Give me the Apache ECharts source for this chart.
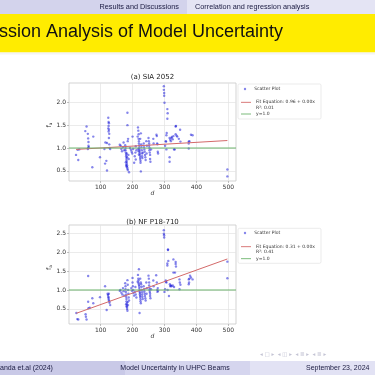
<!DOCTYPE html>
<html><head><meta charset="utf-8">
<script src="https://cdn.jsdelivr.net/npm/echarts@6/dist/echarts.min.js"></script>
<style>html,body{margin:0;padding:0;background:#fff}#c{width:375px;height:375px}</style>
</head><body><div id="c"></div><script>
// ---- data ----
const xTicks = [100, 200, 300, 400, 500];
const yTicksA = [0.5, 1.0, 1.5, 2.0];
const yTicksB = [0.5, 1.0, 1.5, 2.0, 2.5];
const titleA = '(a) SIA 2052';
const titleB = '(b) NF P18-710';
const fitNameA = 'Fit Equation: 0.96 + 0.00x';
const fitNameB = 'Fit Equation: 0.31 + 0.00x';
const r2A = 'R²: 0.01';
const r2B = 'R²: 0.41';
const fitA = [0.96, 0.00041];   // intercept, slope
const fitB = [0.31, 0.00304];
const refLevel = 1.0;

const pointsA = [
 [23,0.85],[28,0.96],[30,0.74],[33,0.97],
 [52,1.37],[56,1.47],[60,1.31],[61,1.21],[62,1.13],[62,1.05],[61,1.0],[60,0.98],[63,1.02],
 [74,0.58],[77,1.25],[98,0.80],
 [112,0.98],[114,0.66],[120,0.51],[115,1.12],[120,1.11],[118,0.72],
 [124,1.66],[125,1.57],[126,1.54],[125,1.48],[124,1.43],[126,1.40],[125,1.36],[127,1.31],[126,1.22],[128,1.0],[127,1.08],[130,0.98],
 [160,1.07],[163,1.05],[165,0.98],[167,0.93],[170,1.02],[172,1.12],[174,0.95],
 [177,1.06],[178,1.0],[178,0.95],[179,0.9],[180,0.86],[180,0.82],[181,0.78],[181,0.74],[182,0.70],[182,0.66],[183,0.62],[183,0.58],[184,0.55],
 [179,0.69],[180,0.63],[181,0.6],[182,0.88],[183,0.8],[184,1.77],[184,1.5],[185,1.15],[186,1.2],[187,0.85],[188,0.76],[185,0.52],[189,0.47],
 [192,1.0],[195,0.96],[197,0.92],[199,0.88],[200,1.25],[202,0.98],[205,0.68],[207,0.82],[209,0.9],[210,0.75],[212,0.95],[210,1.04],
 [216,1.25],[217,1.45],[218,1.38],[219,1.3],[219,1.2],[220,1.15],[220,1.1],[221,1.05],[221,1.0],[222,0.96],[222,0.92],[223,0.88],[223,0.84],
 [224,0.8],[224,0.76],[225,0.72],[225,0.68],[226,0.49],[227,1.08],[228,1.02],[229,0.95],[230,0.88],[230,0.82],[231,0.78],[232,0.9],
 [218,0.98],[219,0.93],[220,0.86],[224,1.2],[226,1.32],
 [235,1.1],[236,1.02],[237,0.97],[238,0.92],[239,0.85],[240,0.8],[241,0.74],[243,1.15],[244,0.88],[245,1.05],
 [250,1.22],[251,1.15],[252,1.1],[252,1.05],[253,1.0],[253,0.95],[254,0.9],[255,0.85],[255,0.76],[256,0.7],[258,0.97],
 [265,1.2],[266,1.1],[275,1.29],[276,1.26],[277,1.1],[278,1.08],[279,0.92],[280,0.88],
 [298,2.35],[298,2.27],[299,2.20],[299,2.14],[300,1.99],[309,1.85],[310,1.76],[309,1.64],[307,1.33],[306,1.28],[305,1.14],[304,1.15],[306,0.97],[302,1.05],
 [316,1.22],[318,1.18],[316,0.80],[316,0.70],[323,1.24],[326,1.19],[320,1.15],[322,1.22],[330,0.97],[332,0.97],[328,1.26],
 [335,1.47],[336,1.48],[335,1.3],[338,1.27],[340,1.25],[349,1.4],[350,1.14],[345,1.2],
 [376,1.14],[376,1.10],[376,0.99],[378,1.15],[383,1.29],[388,1.28],
 [497,0.53],[497,0.38]
];

const pointsB = [
 [24,0.39],[27,0.23],[30,0.22],[53,0.36],[54,0.29],[56,0.22],[61,1.37],[61,0.69],[62,0.52],[66,0.53],[74,0.78],[77,0.65],[98,0.81],[114,1.1],[119,0.47],
 [122,0.9],[123,0.87],[124,0.82],[125,0.8],[125,0.76],[126,0.72],[127,0.7],[128,0.66],[126,0.9],[130,0.6],
 [160,0.98],[162,1.0],[165,0.93],[168,0.88],[170,1.05],[172,0.97],[174,0.85],
 [177,1.18],[178,1.1],[178,1.02],[179,0.95],[180,0.88],[180,0.82],[181,0.76],[181,0.7],[182,0.65],[182,0.6],[183,0.55],[183,0.5],[184,0.45],
 [184,1.26],[185,1.14],[186,1.0],[187,0.9],[188,0.8],[189,0.72],[180,0.62],[181,0.56],[185,0.68],[186,0.6],
 [196,1.05],[198,0.98],[200,1.32],[200,1.2],[201,1.1],[202,1.0],[203,0.92],[205,0.85],[207,0.95],[209,1.08],[210,0.88],[212,0.8],
 [216,1.22],[217,1.4],[218,1.3],[219,1.25],[219,1.18],[220,1.55],[220,1.14],[221,1.1],[221,1.05],[222,1.0],[222,0.96],[223,0.92],[223,0.88],
 [224,0.84],[224,0.8],[225,0.75],[225,0.7],[226,0.65],[222,0.39],[227,1.15],[228,1.08],[229,1.0],[230,0.94],[230,0.88],[231,0.82],[232,0.76],[226,1.2],[224,1.3],
 [235,1.1],[236,1.02],[237,0.96],[238,0.9],[239,0.84],[240,0.78],[241,0.72],[243,1.2],[244,0.9],[245,1.05],
 [250,1.38],[251,1.3],[252,1.2],[252,1.12],[253,1.05],[253,1.0],[254,0.95],[255,0.9],[255,0.84],[256,0.78],[258,1.02],
 [265,1.25],[266,1.1],[274,1.39],[276,1.2],[277,1.0],[278,0.95],[279,1.05],[280,0.98],
 [298,2.58],[298,2.49],[299,2.39],[299,2.45],[311,2.07],[311,2.06],[309,1.70],[309,1.65],[312,1.77],[305,1.22],[306,1.2],[304,1.25],[302,1.02],[300,0.95],[314,0.84],[310,1.0],
 [317,1.15],[318,1.1],[320,1.12],[322,1.1],[328,1.81],[335,1.74],[335,1.69],[336,1.62],[328,1.46],[333,1.46],[330,1.08],[326,1.12],
 [347,1.28],[348,1.2],[347,1.02],[350,1.14],
 [376,1.28],[377,1.2],[376,1.15],[378,1.3],[380,1.38],[383,1.33],[388,1.28],
 [497,1.75],[497,1.31]
];

// ---- layout / style ----
const X_MIN = 1, X_MAX = 524;
const YA = [0.28, 2.42], YB = [0.10, 2.72];
const gridA = {left: 69, top: 83, width: 167, height: 98};
const gridB = {left: 69, top: 225, width: 167, height: 99};
const scatterColor = 'rgba(10,10,215,0.62)';
const fitColor = '#d46a6a';
const refColor = '#6cb46c';
const gridLineColor = '#e3e3e3';
const FONT = 'DejaVu Sans';

function fitLine(pts, fit) {
  const ds = pts.map(p => p[0]);
  const lo = Math.min(...ds), hi = Math.max(...ds);
  return [[lo, fit[0] + fit[1] * lo], [hi, fit[0] + fit[1] * hi]];
}

function xAxis(gi) {
  return {
    type: 'value', gridIndex: gi, min: X_MIN, max: X_MAX,
    name: 'd', nameLocation: 'middle', nameGap: 9,
    nameTextStyle: {fontFamily: FONT, fontSize: 6, fontStyle: 'italic', color: '#333'},
    axisLine: {show: false},
    axisTick: {show: true, length: 2, lineStyle: {color: '#999', width: 0.6}, customValues: xTicks},
    axisLabel: {customValues: xTicks, fontFamily: FONT, fontSize: 6, color: '#333', margin: 3},
    splitLine: {show: true, lineStyle: {color: gridLineColor, width: 0.7}}
  };
}
function yAxis(gi, ext, ticks) {
  return {
    type: 'value', gridIndex: gi, min: ext[0], max: ext[1],
    name: '{f|f}{s|a}', nameLocation: 'middle', nameGap: 13, nameRotate: 90,
    nameTextStyle: {padding: [0, 0, 0, 14], rich: {
      f: {fontFamily: FONT, fontSize: 6.5, color: '#333'},
      s: {fontFamily: FONT, fontSize: 4.2, color: '#333', padding: [3, 0, 0, 0]}
    }},
    axisLine: {show: false},
    axisTick: {show: true, length: 2, lineStyle: {color: '#999', width: 0.6}, customValues: ticks},
    axisLabel: {customValues: ticks, fontFamily: FONT, fontSize: 6, color: '#333', margin: 3,
      formatter: v => v.toFixed(1)},
    splitLine: {show: true, lineStyle: {color: gridLineColor, width: 0.7}}
  };
}

function legendItem(name, icon, left, top, w, h, textPad) {
  return {
    data: [{name: name, icon: icon}], left: left, top: top, orient: 'vertical', padding: 0,
    itemWidth: w, itemHeight: h, itemGap: 0, selectedMode: false,
    textStyle: {fontFamily: FONT, fontSize: 4.5, lineHeight: 5, color: '#333', padding: [0, 0, 0, textPad]}
  };
}

const chart = echarts.init(document.getElementById('c'), null, {renderer: 'canvas'});
const option = {
  animation: false,
  backgroundColor: '#ffffff',
  title: [
    {text: titleA, left: 152.5, top: 73.5, textAlign: 'center', padding: 0,
     textStyle: {fontFamily: FONT, fontSize: 7, fontWeight: 'normal', color: '#222'}},
    {text: titleB, left: 152.5, top: 219, textAlign: 'center', padding: 0,
     textStyle: {fontFamily: FONT, fontSize: 7, fontWeight: 'normal', color: '#222'}}
  ],
  grid: [
    Object.assign({show: true, borderColor: '#c8c8c8', borderWidth: 0.8, backgroundColor: '#fff'}, gridA),
    Object.assign({show: true, borderColor: '#c8c8c8', borderWidth: 0.8, backgroundColor: '#fff'}, gridB)
  ],
  xAxis: [xAxis(0), xAxis(1)],
  yAxis: [yAxis(0, YA, yTicksA), yAxis(1, YB, yTicksB)],
  legend: [
    legendItem('Scatter Plot', 'circle', 243.8, 86.5, 2.4, 2.4, 3),
    legendItem(fitNameA, 'rect', 241, 99.8, 10, 0.9, 0),
    legendItem('y=1.0', 'rect', 241, 111.5, 10, 0.9, 0),
    legendItem('Scatter Plot', 'circle', 243.8, 230.5, 2.4, 2.4, 3),
    legendItem(fitNameB, 'rect', 241, 244.2, 10, 0.9, 0),
    legendItem('y=1.0', 'rect', 241, 256.2, 10, 0.9, 0)
  ],
  graphic: [
    {type: 'rect', shape: {x: 0, y: 0, width: 187, height: 14}, style: {fill: '#d3d3ec'}, silent: true},
    {type: 'rect', shape: {x: 187, y: 0, width: 188, height: 14}, style: {fill: '#e4e4f4'}, silent: true},
    {type: 'text', x: 179, y: 7, style: {text: 'Results and Discussions', fill: '#1a1a40', font: '7.3px "Liberation Sans"', align: 'right', verticalAlign: 'middle'}},
    {type: 'text', x: 195, y: 7, style: {text: 'Correlation and regression analysis', fill: '#1a1a40', font: '7.3px "Liberation Sans"', align: 'left', verticalAlign: 'middle'}},
    {type: 'rect', shape: {x: 0, y: 14, width: 375, height: 38.5}, style: {fill: '#ffec00'}, silent: true},
    {type: 'rect', shape: {x: 0, y: 52.5, width: 375, height: 2}, style: {fill: '#f4f4f4'}, silent: true},
    {type: 'text', x: 283, y: 32.5, style: {text: 'ssion Analysis of Model Uncertainty', fill: '#111', font: '18px "Liberation Sans"', align: 'right', verticalAlign: 'middle'}},
    {type: 'rect', shape: {x: 238, y: 84, width: 83, height: 35, r: 1.5}, style: {fill: '#fff', stroke: '#dddddd', lineWidth: 0.6}, z: -1, silent: true},
    {type: 'rect', shape: {x: 238, y: 228.3, width: 83, height: 35, r: 1.5}, style: {fill: '#fff', stroke: '#dddddd', lineWidth: 0.6}, z: -1, silent: true},
    {type: 'text', x: 256, y: 107.8, style: {text: r2A, fill: '#333', font: '4.5px "DejaVu Sans"', align: 'left', verticalAlign: 'middle'}},
    {type: 'text', x: 256, y: 252, style: {text: r2B, fill: '#333', font: '4.5px "DejaVu Sans"', align: 'left', verticalAlign: 'middle'}},
    {type: 'text', x: 260, y: 355, style: {text: '◂ □ ▸  ◂ ◫ ▸  ◂ ≣ ▸  ◂ ≣ ▸', fill: '#c4c4d4', font: '5.5px "DejaVu Sans"', align: 'left', verticalAlign: 'middle'}},
    {type: 'rect', shape: {x: 0, y: 361, width: 125, height: 14}, style: {fill: '#c9c9e7'}, silent: true},
    {type: 'rect', shape: {x: 125, y: 361, width: 125, height: 14}, style: {fill: '#d5d5ee'}, silent: true},
    {type: 'rect', shape: {x: 250, y: 361, width: 125, height: 14}, style: {fill: '#e2e2f4'}, silent: true},
    {type: 'text', x: 0, y: 368, style: {text: 'anda et.al (2024)', fill: '#1a1a40', font: '7px "Liberation Sans"', align: 'left', verticalAlign: 'middle'}},
    {type: 'text', x: 175, y: 368, style: {text: 'Model Uncertainty in UHPC Beams', fill: '#1a1a40', font: '7px "Liberation Sans"', align: 'center', verticalAlign: 'middle'}},
    {type: 'text', x: 306, y: 368, style: {text: 'September 23, 2024', fill: '#1a1a40', font: '7px "Liberation Sans"', align: 'left', verticalAlign: 'middle'}}
  ],
  series: [
    {name: 'Scatter Plot', type: 'scatter', xAxisIndex: 0, yAxisIndex: 0, data: pointsA, symbolSize: 2.4,
     itemStyle: {color: scatterColor}},
    {name: fitNameA, type: 'line', xAxisIndex: 0, yAxisIndex: 0, data: fitLine(pointsA, fitA), symbol: 'none',
     lineStyle: {color: fitColor, width: 1}, itemStyle: {color: fitColor}},
    {name: 'y=1.0', type: 'line', xAxisIndex: 0, yAxisIndex: 0, data: [[X_MIN, refLevel], [X_MAX, refLevel]], symbol: 'none',
     lineStyle: {color: refColor, width: 1}, itemStyle: {color: refColor}},
    {name: 'Scatter Plot', type: 'scatter', xAxisIndex: 1, yAxisIndex: 1, data: pointsB, symbolSize: 2.4,
     itemStyle: {color: scatterColor}},
    {name: fitNameB, type: 'line', xAxisIndex: 1, yAxisIndex: 1, data: fitLine(pointsB, fitB), symbol: 'none',
     lineStyle: {color: fitColor, width: 1}, itemStyle: {color: fitColor}},
    {name: 'y=1.0', type: 'line', xAxisIndex: 1, yAxisIndex: 1, data: [[X_MIN, refLevel], [X_MAX, refLevel]], symbol: 'none',
     lineStyle: {color: refColor, width: 1}, itemStyle: {color: refColor}}
  ]
};
chart.setOption(option);
</script></body></html>
